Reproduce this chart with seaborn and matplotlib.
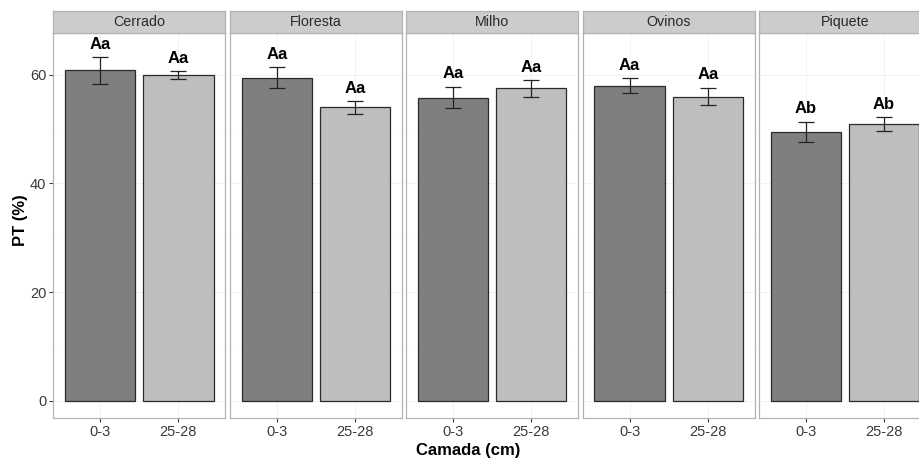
import matplotlib
matplotlib.use("Agg")
import matplotlib.pyplot as plt
import seaborn as sns
import pandas as pd

sistemas = ["Cerrado", "Floresta", "Milho", "Ovinos", "Piquete"]
camadas = ["0-3", "25-28"]
pt_03 = [60.8, 59.5, 55.8, 58.0, 49.5]
pt_2528 = [59.9, 54.0, 57.5, 56.0, 50.9]
se_03 = [2.4, 1.9, 2.0, 1.35, 1.9]
se_2528 = [0.75, 1.15, 1.5, 1.6, 1.3]
letras_03 = ["Aa", "Aa", "Aa", "Aa", "Ab"]
letras_2528 = ["Aa", "Aa", "Aa", "Aa", "Ab"]

rows = []
for i, s in enumerate(sistemas):
    rows.append(dict(Sistema=s, Camada=camadas[0], PT=pt_03[i], SE=se_03[i], L=letras_03[i]))
    rows.append(dict(Sistema=s, Camada=camadas[1], PT=pt_2528[i], SE=se_2528[i], L=letras_2528[i]))
df = pd.DataFrame(rows)

sns.set_theme(style="white")
plt.rcParams['font.family'] = ['Liberation Sans', 'DejaVu Sans']

W, H = 919, 459
fig = plt.figure(figsize=(W / 100, H / 100), dpi=100)

lefts = [53.3, 230.0, 406.0, 582.7, 759.0]
pw = 172.0
ptop, pbot = 33.0, 418.3
stop = 10.7
palette = {"0-3": "#7f7f7f", "25-28": "#bebebe"}
border = "#b3b3b3"
tickc = "#3a3a3a"

for k, s in enumerate(sistemas):
    x0 = lefts[k]
    ax = fig.add_axes([x0 / W, (H - pbot) / H, pw / W, (pbot - ptop) / H])
    sub = df[df.Sistema == s]
    sns.barplot(data=sub, x="Camada", y="PT", hue="Camada", order=camadas,
                hue_order=camadas, palette=palette, width=0.9, dodge=False,
                edgecolor="#2a2a2a", linewidth=0.9, errorbar=None, legend=False, ax=ax)
    for j, c in enumerate(camadas):
        r = sub[sub.Camada == c].iloc[0]
        ax.errorbar(j, r.PT, yerr=r.SE, fmt="none", ecolor="#222222",
                    elinewidth=0.9, capsize=6, capthick=0.9, zorder=5)
        ax.text(j, r.PT + r.SE + 1.0, r.L, ha="center", va="bottom",
                fontsize=12, fontweight="bold", color="black")
    ax.set_xlim(-0.6, 1.6)
    ax.set_ylim(-3.24, 67.7)
    ax.set_yticks([0, 20, 40, 60])
    for y in [0, 20, 40, 60]:
        ax.axhline(y, color="#f0f0f0", lw=0.6, zorder=0)
    for y in [10, 30, 50]:
        ax.axhline(y, color="#f7f7f7", lw=0.4, zorder=0)
    for xx in [0, 1]:
        ax.axvline(xx, color="#f0f0f0", lw=0.6, zorder=0)
    ax.set_xlabel("")
    ax.set_ylabel("")
    for sp in ax.spines.values():
        sp.set_color(border)
        sp.set_linewidth(0.9)
    ax.tick_params(axis="both", which="both", length=3, width=0.8,
                   color=tickc, labelcolor=tickc, labelsize=10.5, pad=2)
    ax.tick_params(axis="x", bottom=True)
    if k == 0:
        ax.tick_params(axis="y", left=True)
    else:
        ax.tick_params(axis="y", left=False, labelleft=False)
    # strip
    sax = fig.add_axes([x0 / W, (H - ptop) / H, pw / W, (ptop - stop) / H])
    sax.set_facecolor("#cccccc")
    sax.set_xticks([])
    sax.set_yticks([])
    for sp in sax.spines.values():
        sp.set_color(border)
        sp.set_linewidth(0.9)
    sax.text(0.5, 0.48, s, ha="center", va="center", fontsize=10.3,
             color="#2a2a2a", transform=sax.transAxes)

fig.text(20 / W, 1 - 220 / H, "PT (%)", rotation=90, ha="center", va="center",
         fontsize=12, fontweight="bold", color="black")
fig.text(468 / W, 1 - 450 / H, "Camada (cm)", ha="center", va="center",
         fontsize=12, fontweight="bold", color="black")

fig.savefig("out.png", dpi=100, facecolor="white")
